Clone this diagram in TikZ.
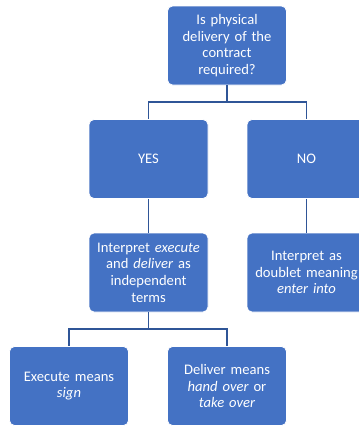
\documentclass[tikz,border=0pt]{standalone}
\usepackage{fontspec}
\setmainfont{Carlito}
\definecolor{boxblue}{HTML}{4472C4}
\definecolor{lineblue}{HTML}{2F5597}
\begin{document}
\begin{tikzpicture}[x=1pt,y=-1pt,
  box/.style={draw=white, line width=0.8pt, fill=boxblue, rounded corners=5pt,
    minimum width=119pt, minimum height=79pt, text width=116pt, align=center,
    inner sep=0pt, text=white, font=\fontsize{14.6}{16.7}\selectfont},
  conn/.style={draw=lineblue, line width=1.5pt}]
\useasboundingbox (0,0) rectangle (359,426);
\node[box] (top) at (227,45.5) {Is physical\\delivery of the\\contract\\required?};
\node[box] (yes) at (148.5,159) {YES};
\node[box] (no) at (306.5,159) {NO};
\node[box] (interp) at (148.5,272.5) {Interpret \textit{execute}\\and \textit{deliver} as\\independent\\terms};
\node[box] (doublet) at (306.5,272.5) {Interpret as\\doublet meaning\\\textit{enter into}};
\node[box] (exec) at (69,386) {Execute means\\\textit{sign}};
\node[box] (deliv) at (227,386) {Deliver means\\\textit{hand over} or\\\textit{take over}};
\draw[conn] (top.south) -- ++(0,16.5) -| (yes.north);
\draw[conn] (top.south) -- ++(0,16.5) -| (no.north);
\draw[conn] (yes.south) -- (interp.north);
\draw[conn] (no.south) -- (doublet.north);
\draw[conn] (interp.south) -- ++(0,16.5) -| (exec.north);
\draw[conn] (interp.south) -- ++(0,16.5) -| (deliv.north);
\end{tikzpicture}
\end{document}
